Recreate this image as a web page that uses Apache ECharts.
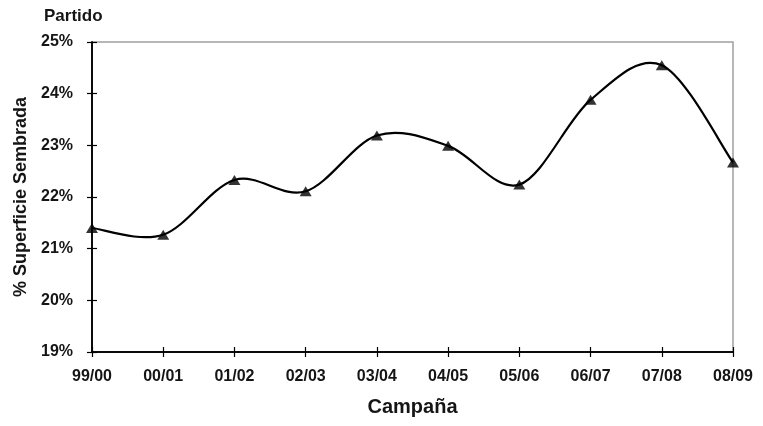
<!DOCTYPE html>
<html>
<head>
<meta charset="utf-8">
<script src="https://cdn.jsdelivr.net/npm/echarts@6/dist/echarts.min.js"></script>
<style>
  html, body { margin: 0; padding: 0; background: #fff; }
  #chart { width: 763px; height: 426px; }
</style>
</head>
<body>
<div id="chart"></div>
<script>
// Campaigns (crop seasons) along the x axis
const campaigns = ['99/00', '00/01', '01/02', '02/03', '03/04', '04/05', '05/06', '06/07', '07/08', '08/09'];
// Share of sown area in the district, percent
const sownShare = [21.40, 21.27, 22.33, 22.11, 23.19, 22.99, 22.24, 23.88, 24.55, 22.67];
// Y axis range and step, percent
const yMin = 19, yMax = 25, yStep = 1;

const font = 'Liberation Sans, Arial, sans-serif';
const textColor = '#151515';
const chart = echarts.init(document.getElementById('chart'), null, { renderer: 'canvas' });

// Smooth curve through the points (cardinal spline, tension 1/6 per side),
// built from pixel coordinates supplied by the axes.
function renderCurve(params, api) {
  const pts = sownShare.map((v, i) => api.coord([i, v]));
  const n = pts.length;
  let d = 'M' + pts[0][0] + ' ' + pts[0][1];
  for (let i = 0; i < n - 1; i++) {
    const p0 = pts[Math.max(i - 1, 0)];
    const p1 = pts[i];
    const p2 = pts[i + 1];
    const p3 = pts[Math.min(i + 2, n - 1)];
    const c1x = p1[0] + (p2[0] - p0[0]) / 6;
    const c1y = p1[1] + (p2[1] - p0[1]) / 6;
    const c2x = p2[0] - (p3[0] - p1[0]) / 6;
    const c2y = p2[1] - (p3[1] - p1[1]) / 6;
    d += ' C' + c1x + ' ' + c1y + ' ' + c2x + ' ' + c2y + ' ' + p2[0] + ' ' + p2[1];
  }
  return {
    type: 'path',
    shape: { pathData: d },
    style: { fill: null, stroke: '#000', lineWidth: 2.2 }
  };
}

const baseX = {
  type: 'category',
  data: campaigns,
  boundaryGap: false,
  axisLine: { show: true, lineStyle: { color: '#000', width: 1.5 } },
  splitLine: { show: false }
};
const baseY = {
  type: 'value',
  min: yMin, max: yMax, interval: yStep,
  axisLine: { show: true, lineStyle: { color: '#000', width: 1.5 } },
  splitLine: { show: false }
};

chart.setOption({
  animation: false,
  backgroundColor: '#fff',
  title: {
    text: 'Partido',
    left: 39, top: 3,
    textStyle: { fontFamily: font, fontSize: 17, fontWeight: 'bold', color: textColor }
  },
  grid: {
    left: 92, right: 30, top: 42, bottom: 74,
    outerBoundsMode: 'none',
    containLabel: false,
    show: true, borderColor: '#a0a0a0', borderWidth: 1.5, backgroundColor: 'transparent'
  },
  xAxis: [
    Object.assign({}, baseX, {
      name: 'Campaña',
      nameLocation: 'middle',
      nameGap: 45,
      nameMoveOverlap: false,
      nameTextStyle: { fontFamily: font, fontSize: 20, fontWeight: 'bold', color: textColor },
      axisTick: { show: true, inside: false, length: 5, alignWithLabel: true, lineStyle: { color: '#000', width: 1.2 } },
      axisLabel: { fontFamily: font, fontSize: 16, fontWeight: 'bold', color: textColor, margin: 17, interval: 0 }
    }),
    Object.assign({}, baseX, {
      position: 'bottom',
      axisTick: { show: true, inside: true, length: 5, lineStyle: { color: '#000', width: 1.2 } },
      axisLabel: { show: false }
    })
  ],
  yAxis: [
    Object.assign({}, baseY, {
      name: '% Superficie Sembrada',
      nameLocation: 'middle',
      nameGap: 62,
      nameMoveOverlap: false,
      nameTextStyle: { fontFamily: font, fontSize: 18, fontWeight: 'bold', color: textColor },
      axisTick: { show: true, inside: false, length: 5, lineStyle: { color: '#000', width: 1.2 } },
      axisLabel: {
        fontFamily: font, fontSize: 16, fontWeight: 'bold', color: textColor, margin: 19,
        formatter: v => v + '%'
      }
    }),
    Object.assign({}, baseY, {
      position: 'left',
      axisTick: { show: true, inside: true, length: 5, lineStyle: { color: '#000', width: 1.2 } },
      axisLabel: { show: false }
    })
  ],
  series: [
    {
      type: 'custom',
      xAxisIndex: 0,
      yAxisIndex: 0,
      data: [0],
      renderItem: renderCurve,
      silent: true,
      clip: false,
      z: 4
    },
    {
      type: 'scatter',
      xAxisIndex: 0,
      yAxisIndex: 0,
      data: sownShare,
      symbol: 'triangle',
      symbolSize: [12, 10],
      itemStyle: { color: '#000' },
      z: 5
    }
  ]
});
</script>
</body>
</html>
